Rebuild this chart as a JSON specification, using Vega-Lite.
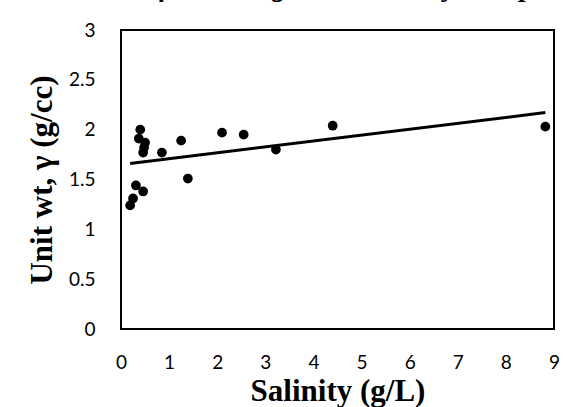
{
  "$schema": "https://vega.github.io/schema/vega-lite/v6.json",
  "width": 433,
  "height": 299,
  "autosize": {"type": "none"},
  "padding": {"left": 121, "top": 30, "right": 22, "bottom": 78},
  "background": "white",
  "title": {
    "text": "Fig. 5: Variation of Unit weight and Salinity data plot",
    "font": "Liberation Serif",
    "fontSize": 28,
    "fontWeight": "bold",
    "fontStyle": "italic",
    "anchor": "start",
    "frame": "group",
    "baseline": "alphabetic",
    "dx": -175,
    "offset": -3,
    "color": "black"
  },
  "data": {
    "values": [
      {"salinity": 0.19, "unit_wt": 1.24},
      {"salinity": 0.25, "unit_wt": 1.31},
      {"salinity": 0.31, "unit_wt": 1.44},
      {"salinity": 0.37, "unit_wt": 1.91},
      {"salinity": 0.40, "unit_wt": 2.00},
      {"salinity": 0.46, "unit_wt": 1.77},
      {"salinity": 0.48, "unit_wt": 1.82},
      {"salinity": 0.50, "unit_wt": 1.87},
      {"salinity": 0.46, "unit_wt": 1.38},
      {"salinity": 0.85, "unit_wt": 1.77},
      {"salinity": 1.25, "unit_wt": 1.89},
      {"salinity": 1.39, "unit_wt": 1.51},
      {"salinity": 2.10, "unit_wt": 1.97},
      {"salinity": 2.55, "unit_wt": 1.95},
      {"salinity": 3.22, "unit_wt": 1.80},
      {"salinity": 4.40, "unit_wt": 2.04},
      {"salinity": 8.82, "unit_wt": 2.03}
    ]
  },
  "encoding": {
    "x": {
      "field": "salinity",
      "type": "quantitative",
      "scale": {"domain": [0, 9], "nice": false, "zero": true},
      "axis": {
        "title": "Salinity (g/L)",
        "values": [0, 1, 2, 3, 4, 5, 6, 7, 8, 9],
        "format": "~g",
        "grid": false,
        "domain": false,
        "ticks": false,
        "labelFont": "Lato",
        "labelFontSize": 19,
        "labelColor": "black",
        "labelPadding": 24,
        "labelFlush": false,
        "titleFont": "Liberation Serif",
        "titleFontSize": 31,
        "titleFontWeight": "bold",
        "titleColor": "black",
        "titlePadding": 4
      }
    },
    "y": {
      "field": "unit_wt",
      "type": "quantitative",
      "scale": {"domain": [0, 3], "nice": false},
      "axis": {
        "title": "Unit wt, γ (g/cc)",
        "values": [0, 0.5, 1, 1.5, 2, 2.5, 3],
        "format": "~g",
        "grid": false,
        "domain": false,
        "ticks": false,
        "labelFont": "Lato",
        "labelFontSize": 19,
        "labelColor": "black",
        "labelPadding": 26,
        "labelFlush": false,
        "titleFont": "Liberation Serif",
        "titleFontSize": 31,
        "titleFontWeight": "bold",
        "titleColor": "black",
        "titlePadding": 10
      }
    }
  },
  "layer": [
    {
      "mark": {"type": "point", "filled": true, "size": 95, "color": "black", "opacity": 1}
    },
    {
      "transform": [{"regression": "unit_wt", "on": "salinity"}],
      "mark": {"type": "line", "color": "black", "strokeWidth": 3}
    }
  ],
  "config": {
    "view": {"stroke": "black", "strokeWidth": 2}
  }
}
